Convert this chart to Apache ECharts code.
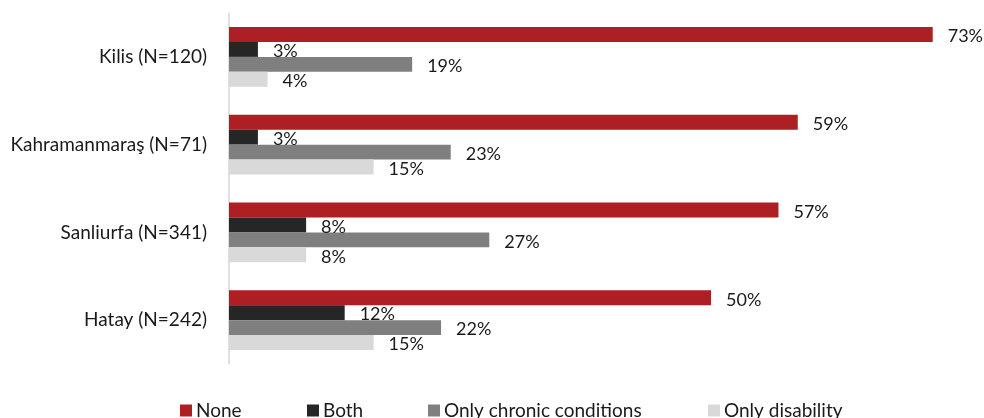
<!DOCTYPE html>
<html>
<head>
<meta charset="utf-8">
<script src="https://cdn.jsdelivr.net/npm/echarts@6/dist/echarts.min.js"></script>
<style>
  html, body { margin: 0; padding: 0; background: #fff; }
  #chart { width: 984px; height: 418px; }
</style>
</head>
<body>
<div id="chart"></div>
<script>
// Provinces, top to bottom
const provinces = ['Kilis (N=120)', 'Kahramanmaraş (N=71)', 'Sanliurfa (N=341)', 'Hatay (N=242)'];

// Share of respondents (%) per condition type
const noneValues = [73, 59, 57, 50];
const bothValues = [3, 3, 8, 12];
const chronicValues = [19, 23, 27, 22];
const disabilityValues = [4, 15, 8, 15];

const seriesNames = ['None', 'Both', 'Only chronic conditions', 'Only disability'];
const seriesColors = ['#AE1F24', '#262626', '#7F7F7F', '#D9D9D9'];
const seriesValues = [noneValues, bothValues, chronicValues, disabilityValues];

const fontFamily = 'Lato, "Noto Sans", sans-serif';
const textColor = '#1A1A1A';

// Legend entries are spread along the bottom edge, one block per series
const legendLefts = [180, 307, 428, 708];

const chart = echarts.init(document.getElementById('chart'), null, { renderer: 'canvas' });

chart.setOption({
  animation: false,
  textStyle: { fontFamily: fontFamily },
  grid: { left: 229, right: 32, top: 13, bottom: 54, containLabel: false },
  legend: seriesNames.map((name, i) => ({
    left: legendLefts[i],
    top: 401,
    padding: 0,
    itemWidth: 12,
    itemHeight: 12,
    icon: 'rect',
    textStyle: { fontFamily: fontFamily, fontSize: 19, color: textColor, padding: [0, 0, 0, -1] },
    data: [name]
  })),
  xAxis: {
    type: 'value',
    min: 0,
    max: 75,
    show: false,
    splitLine: { show: false }
  },
  yAxis: {
    type: 'category',
    inverse: true,
    data: provinces,
    axisLine: { show: true, lineStyle: { color: '#D6D6D6', width: 1.5 } },
    axisTick: { show: false },
    axisLabel: { fontFamily: fontFamily, fontSize: 19, color: textColor, margin: 22 }
  },
  series: seriesNames.map((name, i) => ({
    name: name,
    type: 'bar',
    data: seriesValues[i],
    barGap: '0%',
    barCategoryGap: '32%',
    itemStyle: { color: seriesColors[i] },
    label: {
      show: true,
      position: 'right',
      distance: 15,
      offset: [0, 2],
      formatter: '{c}%',
      fontFamily: fontFamily,
      fontSize: 18,
      color: textColor
    }
  }))
});
</script>
</body>
</html>
